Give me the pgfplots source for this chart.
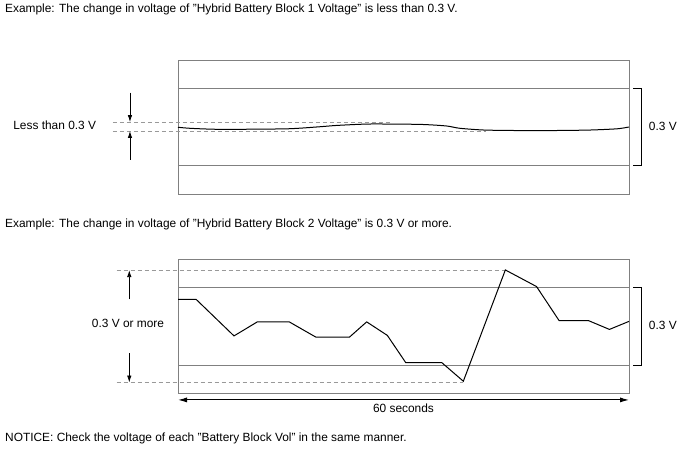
\documentclass[border=0pt]{standalone}
\usepackage{pgfplots}
\pgfplotsset{compat=1.18}
\usetikzlibrary{arrows.meta}
\usepackage{fontspec}
\setmainfont{Liberation Sans}
\definecolor{framegray}{HTML}{808080}
\definecolor{dashgray}{HTML}{999999}
\begin{document}
\fontsize{11.9}{13}\selectfont
\begin{tikzpicture}[x=1pt,y=1pt]
\path[use as bounding box] (0,0) rectangle (688,463);
\node[anchor=base west, inner sep=0] at (5,450) {Example: The change in voltage of "Hybrid Battery Block 1 Voltage" is less than 0.3 V.};
\node[anchor=base west, inner sep=0] at (5,235.5) {Example: The change in voltage of "Hybrid Battery Block 2 Voltage" is 0.3 V or more.};
\node[anchor=base west, inner sep=0] at (5,21) {NOTICE: Check the voltage of each "Battery Block Vol" in the same manner.};
\pgfplotsset{myax/.style={scale only axis, width=451pt, height=134pt,
  xmin=0, xmax=60, ymin=-0.108, ymax=0.408,
  xtick=\empty, ytick={0,0.3}, yticklabels={}, ymajorgrids, major tick length=0,
  axis line style={framegray, line width=0.9pt}, grid style={framegray, line width=0.9pt},
  clip=false}}
\tikzset{arr/.style={-{Latex[length=7pt,width=4.5pt]}, line width=0.8pt},
  dsh/.style={dashgray, dash pattern=on 4pt off 3pt, line width=0.8pt}}
% top axis
\begin{axis}[myax, at={(178pt,269pt)}, anchor=south west]
\draw[dsh] (axis cs:-8.65,0.169) -- (axis cs:28.2,0.169);
\draw[dsh] (axis cs:-8.65,0.1346) -- (axis cs:41,0.1346);
\addplot[black, line width=1pt, smooth, tension=0.4] coordinates {
(0,0.149) (1.6,0.145) (5.6,0.141) (14.5,0.143) (18.9,0.151) (21.1,0.156) (25.5,0.1615) (32.2,0.160) (35.7,0.154) (37.5,0.145) (41,0.138) (47.7,0.136) (54.4,0.138) (58.4,0.143) (60,0.150)};
\draw[arr] (axis cs:-6.39,0.282) -- (axis cs:-6.39,0.169);
\draw[arr] (axis cs:-6.39,0.023) -- (axis cs:-6.39,0.1346);
\node at (axis cs:-16.4,0.155) {Less than 0.3 V};
\draw[black, line width=0.9pt] (axis cs:60.55,0.3) -- (axis cs:61.6,0.3) -- (axis cs:61.6,0) -- (axis cs:60.55,0);
\node[anchor=west] at (axis cs:62.1,0.154) {0.3 V};
\end{axis}
% bottom axis
\begin{axis}[myax, at={(178pt,69.7pt)}, anchor=south west]
\draw[dsh] (axis cs:-8.15,0.3665) -- (axis cs:43.55,0.3665);
\draw[dsh] (axis cs:-8.15,-0.0665) -- (axis cs:37.96,-0.0665);
\addplot[black, line width=1pt] coordinates {
(0,0.254) (2.4,0.254) (7.45,0.113) (10.55,0.167) (14.8,0.167) (18.36,0.108) (22.8,0.108) (25.1,0.167) (27.85,0.115) (30.3,0.010) (35.1,0.010) (37.96,-0.0615) (43.55,0.367) (47.7,0.303) (50.7,0.172) (54.6,0.172) (57.4,0.138) (60,0.169)};
\draw[arr] (axis cs:-6.48,0.254) -- (axis cs:-6.48,0.3665);
\draw[arr] (axis cs:-6.48,0.046) -- (axis cs:-6.48,-0.0665);
\node at (axis cs:-6.65,0.1615) {0.3 V or more};
\draw[black, line width=0.9pt] (axis cs:60.55,0.3) -- (axis cs:61.6,0.3) -- (axis cs:61.6,0) -- (axis cs:60.55,0);
\node[anchor=west] at (axis cs:62.1,0.154) {0.3 V};
\draw[{Latex[length=9pt,width=5pt]}-{Latex[length=9pt,width=5pt]}, line width=1pt] (axis cs:0,-0.1335) -- (axis cs:60,-0.1335);
\node at (axis cs:30,-0.1665) {60 seconds};
\end{axis}
\end{tikzpicture}
\end{document}
